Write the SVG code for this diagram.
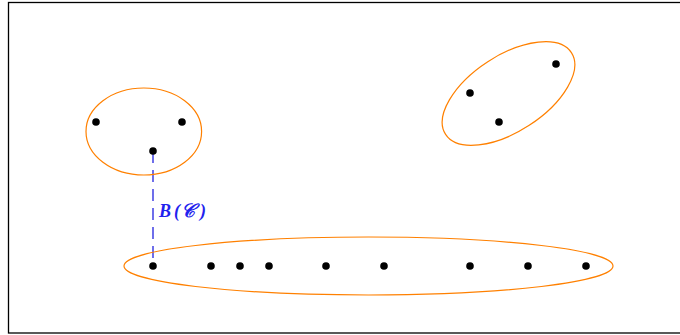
<svg xmlns="http://www.w3.org/2000/svg" width="680" height="335" viewBox="0 0 680 335">
<style>
.grp{fill:none;stroke:#ff8000;stroke-width:1.2}
.pt{fill:#000}
.lbl{font-family:"Liberation Serif","DejaVu Serif",serif;font-weight:bold;font-style:italic;font-size:18px;fill:#2222ee}
</style>
<rect x="0" y="0" width="680" height="335" fill="#fff"/>
<rect x="8.5" y="2.5" width="680" height="330.5" fill="none" stroke="#000" stroke-width="1.3"/>
<g id="connectors">
<line x1="153" y1="151" x2="153" y2="266" stroke="#1010dd" stroke-width="1.2" stroke-dasharray="12 7"/>
<text class="lbl" x="159" y="217"><tspan>B</tspan><tspan x="174">(</tspan><tspan x="181" font-size="19">𝒞</tspan><tspan x="200">)</tspan></text>
</g>
<g id="group1">
<ellipse class="grp" cx="143.8" cy="131.5" rx="57.8" ry="43.5"/>
<circle class="pt" cx="96" cy="122" r="3.8"/>
<circle class="pt" cx="182" cy="122" r="3.8"/>
<circle class="pt" cx="153" cy="151" r="3.8"/>
</g>
<g id="group2">
<ellipse class="grp" cx="0" cy="0" rx="75" ry="38" transform="translate(508.5 93.5) rotate(-33)"/>
<circle class="pt" cx="556" cy="64" r="3.8"/>
<circle class="pt" cx="470" cy="93" r="3.8"/>
<circle class="pt" cx="499" cy="122" r="3.8"/>
</g>
<g id="group3">
<ellipse class="grp" cx="368.5" cy="266" rx="244.5" ry="29"/>
<circle class="pt" cx="153" cy="266" r="3.8"/>
<circle class="pt" cx="211" cy="266" r="3.8"/>
<circle class="pt" cx="240" cy="266" r="3.8"/>
<circle class="pt" cx="269" cy="266" r="3.8"/>
<circle class="pt" cx="326" cy="266" r="3.8"/>
<circle class="pt" cx="384" cy="266" r="3.8"/>
<circle class="pt" cx="470" cy="266" r="3.8"/>
<circle class="pt" cx="528" cy="266" r="3.8"/>
<circle class="pt" cx="586" cy="266" r="3.8"/>
</g>
</svg>
